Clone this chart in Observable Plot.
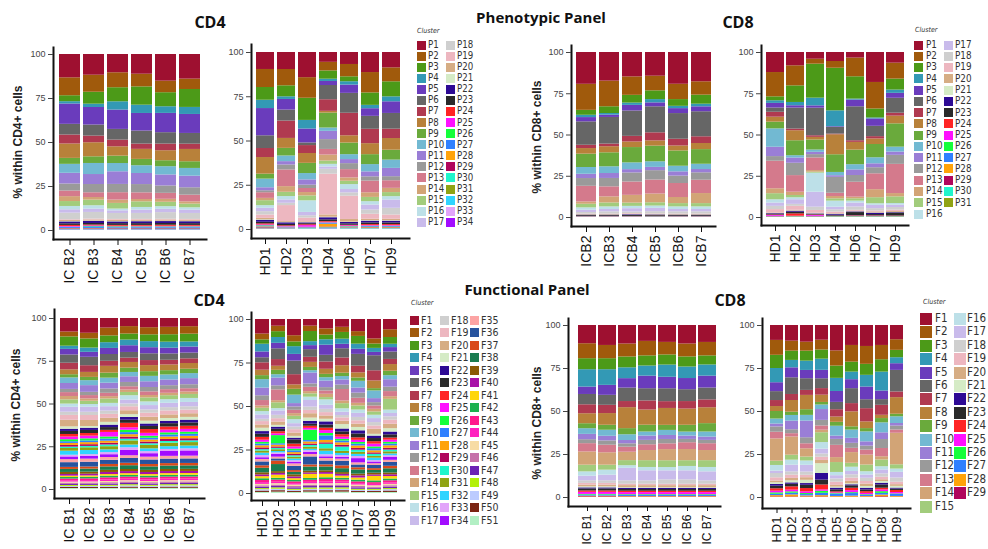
<!DOCTYPE html>
<html><head><meta charset="utf-8">
<script src="https://cdn.jsdelivr.net/npm/d3@7"></script>
<script src="https://cdn.jsdelivr.net/npm/@observablehq/plot@0.6"></script>
<style>
html,body{margin:0;padding:0;background:#fff;}
#fig{position:relative;width:988px;height:549px;overflow:hidden;background:#fff;font-family:"Liberation Sans",Arial,sans-serif;}
.t{position:absolute;white-space:nowrap;color:#111;}
.title{font-family:"Open Sans",sans-serif;font-weight:700;}
.ylab{position:absolute;white-space:nowrap;font-weight:700;font-size:12px;color:#222;transform:translate(-50%,-50%) rotate(-90deg);}
.sw{position:absolute;}
.lt{position:absolute;white-space:nowrap;font-family:"Liberation Sans Narrow","DejaVu Sans Condensed","Liberation Sans",sans-serif;color:#333;line-height:1;}
</style></head>
<body><div id="fig"></div>
<script>
// ---------- cluster labels & colours ----------
const phenoClusters = ["P1","P2","P3","P4","P5","P6","P7","P8","P9","P10","P11","P12","P13","P14","P15","P16","P17","P18","P19","P20","P21","P22","P23","P24","P25","P26","P27","P28","P29","P30","P31","P32","P33","P34"];
const funcClusters = ["F1","F2","F3","F4","F5","F6","F7","F8","F9","F10","F11","F12","F13","F14","F15","F16","F17","F18","F19","F20","F21","F22","F23","F24","F25","F26","F27","F28","F29","F30","F31","F32","F33","F34","F35","F36","F37","F38","F39","F40","F41","F42","F43","F44","F45","F46","F47","F48","F49","F50","F51"];
const palette = ["#9e1030","#a05a0c","#4c9a18","#3399b5","#6a3cbc","#666666","#b03a50","#b8813a","#6aaa3c","#72b9d2","#9a7ed6","#9a9a9a","#d47a8c","#d2a476","#a2cc7c","#bde0e8","#c9bbeb","#cfcfcf","#edb7c0","#d6ad84","#d5ebc6","#2d0a94","#2a2a2a","#ff2424","#ff10ff","#14ff3a","#2f80ff","#ffa30a","#b0055c","#1ff5cc","#8fa314","#2fd4ff","#e2a4fa","#a20cff","#fca4a4","#27539e","#d94a1a","#1a7c50","#8a5a06","#a812a8","#ffd60a","#1cb14e","#ff1a8c","#ff22bf","#f7dca4","#c671aa","#6b22b5","#b2f00a","#bccbff","#7a2412","#b2efc4"];

// ---------- samples ----------
const phenoCD4_IC_samples = ["IC B2","IC B3","IC B4","IC B5","IC B6","IC B7"];
const phenoCD4_HD_samples = ["HD1","HD2","HD3","HD4","HD6","HD7","HD9"];
const phenoCD8_IC_samples = ["ICB2","ICB3","ICB4","ICB5","ICB6","ICB7"];
const phenoCD8_HD_samples = ["HD1","HD2","HD3","HD4","HD6","HD7","HD9"];
const funcCD4_IC_samples = ["IC B1","IC B2","IC B3","IC B4","IC B5","IC B6","IC B7"];
const funcCD4_HD_samples = ["HD1","HD2","HD3","HD4","HD5","HD6","HD7","HD8","HD9"];
const funcCD8_IC_samples = ["IC B1","IC B2","IC B3","IC B4","IC B5","IC B6","IC B7"];
const funcCD8_HD_samples = ["HD1","HD2","HD3","HD4","HD5","HD6","HD7","HD8","HD9"];

// ---------- values (% of cells), rows = clusters, columns = samples ----------
const phenoCD4_IC = [
[13.3,11.8,10.4,11.2,15.2,14.0],[10.2,9.7,8.5,7.2,6.6,5.9],[3.4,6.8,8.0,10.4,8.0,10.2],[1.3,1.9,4.7,4.7,3.8,4.0],
[11.6,10.0,11.0,10.0,11.0,10.8],[6.1,6.3,6.1,7.4,6.5,6.1],[5.1,3.8,3.8,3.0,3.8,3.0],[8.2,8.0,5.3,5.7,5.7,7.0],
[3.4,3.8,4.2,3.6,3.4,3.8],[5.1,6.3,4.7,4.4,4.7,4.4],[6.1,5.7,7.2,6.3,6.3,6.6],[4.0,4.7,4.7,4.7,4.2,4.2],
[3.2,2.7,4.2,3.8,3.4,3.8],[2.8,1.5,1.9,1.3,1.7,1.3],[2.8,3.2,3.2,3.2,2.5,2.1],[1.9,1.9,1.0,1.5,1.5,1.3],
[1.9,1.9,1.5,1.9,1.9,1.9],[3.8,3.8,3.4,3.4,3.8,3.4],[0.4,0.5,0.4,0.4,0.4,0.4],[0.6,0.6,0.8,0.7,0.7,0.7],
[0.2,0.2,0.2,0.2,0.2,0.2],[1.1,1.2,1.0,1.1,1.1,1.1],[0.9,0.9,1.0,1.0,1.0,1.0],[0.6,0.5,0.5,0.5,0.6,0.5],
[0.4,0.3,0.3,0.3,0.3,0.3],[0.2,0.2,0.4,0.3,0.3,0.3],[0.5,0.9,0.4,0.5,0.5,0.5],[0.2,0.2,0.2,0.2,0.2,0.2],
[0.3,0.3,0.3,0.3,0.3,0.3],[0.1,0.1,0.2,0.2,0.2,0.2],[0.1,0.1,0.1,0.1,0.1,0.1],[0.2,0.2,0.2,0.2,0.2,0.2],
[0.1,0.1,0.1,0.1,0.1,0.1],[0.2,0.2,0.2,0.2,0.2,0.2]];

const phenoCD4_HD = [
[9.6,9.6,14.3,5.6,6.8,11.3,8.7],[10.2,9.2,11.7,4.9,7.0,11.5,7.9],[7.2,6.2,12.6,4.7,2.8,7.0,8.5],[4.7,1.5,4.9,1.3,1.9,1.9,2.8],
[15.4,6.0,7.9,2.3,4.7,4.3,6.6],[7.2,6.2,1.5,8.1,11.3,7.3,8.9],[5.1,9.8,4.5,6.6,12.8,8.1,5.3],[9.4,5.6,5.6,1.0,4.1,6.2,6.6],
[2.8,4.3,5.8,8.5,6.6,5.6,5.6],[4.9,3.2,3.6,1.9,2.8,4.1,4.7],[1.7,1.9,3.0,4.7,2.3,2.8,4.7],[1.1,2.8,1.9,5.6,3.4,2.4,2.3],
[3.2,9.4,2.3,3.2,4.7,6.6,4.3],[1.3,3.2,1.9,3.4,1.9,2.6,2.4],[2.8,2.4,2.8,1.9,1.9,2.4,2.3],[1.5,1.9,6.6,1.5,2.8,1.9,1.9],
[1.9,1.9,1.9,1.3,1.9,2.8,4.7],[1.9,1.3,1.3,2.8,1.9,2.4,3.8],[1.9,9.0,2.1,23.2,13.2,2.8,2.4],[0.8,0.5,0.4,1.3,1.5,0.8,0.8],
[0.3,0.2,0.2,0.3,0.2,0.3,0.3],[1.1,0.9,0.5,1.2,0.8,1.0,1.0],[0.9,0.8,0.6,1.0,0.8,0.9,0.9],[0.6,0.4,0.5,0.4,0.3,0.5,0.5],
[0.4,0.3,0.9,0.4,0.5,0.4,0.4],[0.2,0.2,0.2,0.3,0.3,0.3,0.3],[0.5,0.3,0.2,0.4,0.3,0.4,0.4],[0.4,0.2,0.1,1.6,0.2,0.3,0.3],
[0.3,0.2,0.2,0.4,0.2,0.3,0.3],[0.2,0.1,0.2,0.3,0.2,0.2,0.2],[0.2,0.1,0.1,0.2,0.1,0.1,0.1],[0.1,0.1,0.1,0.2,0.1,0.1,0.1],
[0.1,0.1,0.1,0.1,0.1,0.1,0.1],[0.2,0.1,0.1,0.2,0.1,0.1,0.1]];

const phenoCD8_IC = [
[19.3,17.4,14.8,14.4,19.3,17.8],[15.8,15.6,11.2,8.9,9.3,8.1],[3.0,4.1,4.7,5.3,4.1,5.5],[1.4,1.0,1.4,2.0,1.4,1.6],
[2.6,1.4,3.4,2.4,3.0,3.0],[14.2,16.2,15.4,15.8,15.6,15.2],[2.0,1.6,3.4,4.9,4.1,4.1],[3.4,3.7,3.4,3.2,3.0,3.7],
[8.1,8.5,9.3,9.5,9.3,8.9],[4.1,4.1,4.1,3.4,3.4,3.2],[2.6,3.0,2.0,2.0,2.6,2.0],[4.7,5.1,5.5,5.7,4.5,4.5],
[9.5,6.1,8.1,8.5,8.5,8.1],[1.4,3.7,4.7,5.3,3.7,6.1],[2.2,2.4,2.0,2.0,2.0,2.0],[1.4,1.6,1.4,1.4,1.6,1.6],
[1.4,1.4,2.0,2.0,1.4,1.4],[1.0,1.4,1.0,1.4,1.4,1.4],[0.2,0.2,0.3,0.2,0.2,0.2],[0.3,0.3,0.3,0.3,0.3,0.3],
[0.1,0.1,0.1,0.1,0.1,0.1],[0.3,0.3,0.4,0.3,0.3,0.3],[0.5,0.5,0.6,0.5,0.5,0.5],[0.1,0.1,0.1,0.1,0.1,0.1],
[0.1,0.1,0.1,0.1,0.1,0.1],[0.1,0.1,0.1,0.1,0.1,0.1],[0.1,0.1,0.1,0.1,0.1,0.1],[0.05,0.05,0.05,0.05,0.05,0.05],
[0.1,0.1,0.1,0.2,0.1,0.1],[0.05,0.05,0.05,0.05,0.05,0.05],[0.05,0.05,0.05,0.05,0.05,0.05]];

const phenoCD8_HD = [
[12.2,8.1,4.1,5.5,3.4,18.3,6.5],[14.8,12.2,3.0,4.1,11.4,16.2,9.7],[2.4,10.1,20.7,26.0,13.6,5.5,6.7],[1.6,2.0,4.7,9.7,0.6,0.6,2.0],
[2.8,1.4,1.4,0.4,4.1,4.5,3.0],[2.6,12.8,16.8,4.1,20.7,6.3,9.1],[3.0,1.0,1.0,0.4,1.0,1.4,1.8],[3.0,6.1,1.6,12.2,4.7,3.4,4.7],
[4.1,9.1,6.1,10.8,8.9,8.1,14.2],[11.2,1.4,1.4,2.0,3.2,3.7,3.0],[5.7,3.2,1.4,1.0,3.4,2.4,2.0],[2.8,7.5,2.0,9.7,4.1,3.7,5.5],
[16.8,10.1,7.7,2.0,9.1,9.7,17.8],[3.0,2.0,1.0,1.4,1.0,4.9,2.0],[3.7,1.4,0.6,1.4,1.4,3.7,4.1],[2.0,1.2,11.6,3.7,1.2,1.0,1.0],
[2.0,2.8,9.1,1.6,2.4,2.0,1.4],[2.0,1.2,2.0,1.4,2.0,1.4,1.6],[2.0,2.4,1.6,1.0,0.6,0.6,0.8],[0.3,0.4,0.3,0.3,0.3,0.6,0.6],
[0.1,0.2,0.2,0.1,0.1,0.2,0.1],[0.3,0.6,0.3,0.5,0.4,0.8,0.3],[0.6,1.0,0.4,0.6,2.0,0.8,1.8],[0.3,1.4,0.3,0.1,0.2,0.2,0.2],
[0.5,0.2,0.5,0.1,0.2,0.2,0.1],[0.1,0.1,0.1,0.1,0.1,0.1,0.1],[0.1,0.1,0.1,0.1,0.1,0.1,0.1],[0.1,0.1,0.1,0.1,0.1,0.1,0.1],
[0.2,0.1,0.2,0.1,0.1,0.1,0.1],[0.1,0.1,0.1,0.1,0.1,0.1,0.1],[0.1,0.1,0.1,0.1,0.1,0.1,0.1]];

const funcCD4_IC = [
[8.0,8.6,5.5,4.7,5.3,5.1,4.7],[2.9,3.3,4.5,4.3,4.1,4.3,4.3],[5.5,5.3,3.9,3.5,3.9,4.3,4.5],[1.9,2.5,3.3,3.3,3.5,3.5,2.9],
[3.3,2.9,3.5,3.9,3.5,3.3,3.5],[4.9,4.9,3.9,3.3,3.9,3.7,3.3],[3.9,3.9,2.9,2.5,2.9,2.7,2.7],[2.9,2.9,3.9,3.3,3.5,3.3,3.3],
[1.9,1.9,2.9,2.5,2.7,2.5,2.5],[3.3,2.9,2.9,2.5,3.1,2.9,2.9],[3.5,3.9,3.3,3.3,3.3,3.3,3.5],[1.9,1.9,2.5,2.5,2.5,2.3,2.3],
[2.3,1.9,1.9,1.9,2.1,2.1,1.9],[2.0,1.4,1.4,1.4,1.4,1.4,1.4],[2.5,1.9,2.5,1.9,2.3,2.3,2.3],[1.9,1.6,1.9,2.5,2.1,2.1,2.3],
[2.9,2.9,2.5,2.3,2.5,2.5,2.5],[1.9,1.9,1.9,1.6,1.9,1.9,1.9],[2.9,2.9,2.3,2.3,2.3,2.3,2.1],[3.9,3.5,2.3,2.3,2.3,2.1,2.1],
[1.4,1.0,1.6,1.6,1.6,1.6,1.6],[1.3,1.3,1.4,1.6,1.4,1.4,1.6],[1.8,1.8,1.6,1.8,1.8,1.9,1.9],[1.5,1.5,1.2,2.6,2.2,1.8,1.8],
[1.6,1.6,2.6,1.4,1.6,1.6,1.6],[1.2,1.2,1.2,1.4,1.2,1.2,1.2],[1.0,1.0,1.2,1.2,1.0,1.2,1.2],[1.2,1.2,1.2,1.4,1.2,1.4,1.4],
[1.0,1.0,1.0,1.2,1.0,1.2,1.2],[0.8,0.8,1.0,1.0,0.9,1.0,1.0],[1.6,1.6,1.8,2.4,2.0,2.0,2.0],[2.4,2.4,1.6,1.6,1.6,1.6,1.6],
[1.0,1.0,1.2,1.4,1.2,1.2,1.2],[1.6,1.6,1.6,3.2,2.0,2.8,3.0],[1.8,1.8,1.6,1.6,1.6,1.6,1.6],[2.8,2.8,2.4,2.8,2.6,2.6,2.6],
[1.2,1.2,1.4,1.4,1.4,1.4,1.4],[1.8,1.8,2.0,2.2,2.0,2.0,2.0],[1.2,1.2,1.2,1.2,1.2,1.2,1.2],[1.0,1.0,1.2,1.2,1.2,1.2,1.2],
[0.8,0.8,0.9,1.0,0.9,1.0,1.0],[0.9,0.9,1.0,1.0,1.0,1.0,1.0],[1.0,1.0,1.2,1.2,1.2,1.2,1.2],[0.8,0.8,0.9,0.9,0.9,0.9,0.9],
[0.6,0.6,0.7,0.7,0.7,0.7,0.7],[0.8,0.8,0.8,0.9,0.8,0.9,0.9],[0.6,0.6,0.7,0.7,0.7,0.7,0.7],[0.6,0.6,0.6,0.7,0.6,0.7,0.7],
[0.6,0.6,0.6,0.7,0.6,0.7,0.7],[0.6,0.6,0.6,0.7,0.6,0.7,0.7],[0.6,0.6,0.6,0.7,0.6,0.7,0.7]];

const funcCD4_HD = [
[8.3,3.8,9.2,3.8,5.4,4.4,6.9,11.1,5.8],[3.3,3.1,3.5,3.1,3.5,2.9,2.7,2.9,4.4],[2.5,3.3,2.7,5.8,2.7,3.8,4.4,2.5,3.8],
[4.4,3.3,4.4,2.3,3.1,2.9,2.9,2.3,1.9],[3.3,3.1,3.8,2.3,5.8,2.5,2.9,1.9,2.5],[2.9,6.1,7.7,4.4,3.8,5.2,6.7,8.6,4.2],
[4.2,3.8,5.8,2.9,4.2,4.4,3.8,5.8,2.9],[3.1,2.3,2.5,2.9,2.9,4.2,2.9,4.4,3.8],[2.3,2.5,3.3,1.9,1.9,1.9,1.9,1.3,2.5],
[4.8,1.9,4.8,1.3,1.9,1.9,3.8,4.4,2.3],[4.4,4.4,1.9,6.3,3.8,2.9,2.9,2.3,4.2],[2.7,2.3,1.9,1.9,1.9,2.5,2.9,1.9,2.5],
[3.1,6.1,1.9,2.5,1.9,6.5,2.9,1.9,2.9],[1.3,1.2,1.5,1.3,1.9,1.5,1.5,1.5,1.5],[1.9,3.3,1.9,1.9,1.3,2.9,2.3,1.9,6.1],
[1.9,1.3,2.3,1.9,3.1,1.9,1.9,1.9,1.9],[2.5,2.5,1.9,3.8,2.3,1.9,2.3,2.3,1.9],[1.3,1.9,1.5,1.9,1.9,1.3,1.9,1.9,1.9],
[1.9,1.9,1.9,1.9,1.9,1.9,1.9,1.9,2.3],[1.9,1.9,1.9,2.5,1.9,1.9,1.9,2.9,2.5],[1.9,1.0,1.0,1.9,1.5,2.5,1.9,1.0,1.9],
[1.5,1.2,1.0,1.6,1.8,1.6,1.8,1.4,1.6],[1.8,1.4,2.4,1.2,1.8,1.6,2.2,1.8,1.8],[1.6,1.2,1.6,1.2,1.4,1.4,1.4,1.4,1.2],
[1.2,1.0,1.2,1.0,1.6,1.2,1.2,1.6,1.2],[1.0,4.6,1.0,6.0,1.4,1.0,1.0,1.0,1.0],[1.0,0.8,1.0,0.8,2.6,1.0,1.0,1.2,1.0],
[1.2,1.0,1.0,1.2,1.4,1.4,1.4,1.2,1.4],[1.0,0.8,0.8,0.8,0.8,1.0,1.0,0.8,1.0],[0.8,0.8,0.8,1.0,2.6,2.4,1.2,1.2,1.0],
[1.2,1.0,1.0,1.2,1.4,1.2,1.2,1.0,1.2],[1.4,0.8,1.0,0.8,2.0,1.2,1.2,1.4,1.0],[1.2,0.8,1.0,1.0,1.2,1.0,1.2,0.8,1.0],
[1.0,1.6,0.8,1.2,1.0,1.0,2.4,1.0,1.6],[1.4,1.0,1.4,1.4,1.4,1.2,1.2,1.0,1.2],[2.2,1.2,2.4,4.6,2.2,2.6,1.6,1.8,2.2],
[1.4,2.0,1.0,1.2,1.2,1.6,1.2,1.0,1.4],[2.6,4.0,1.4,2.4,2.2,2.2,2.4,1.6,2.4],[1.2,1.0,1.2,1.0,1.0,1.0,1.0,1.0,1.0],
[1.0,1.0,1.0,0.8,1.0,1.0,1.2,0.8,1.0],[1.2,1.8,1.0,2.4,2.0,1.2,1.2,2.6,1.4],[1.0,1.0,0.8,1.0,1.0,1.0,1.0,1.0,1.0],
[1.2,1.2,1.0,1.2,1.4,1.2,1.0,1.0,1.2],[1.0,0.8,0.8,0.8,1.0,0.8,0.8,0.8,0.8],[0.8,0.8,0.8,0.8,0.8,0.8,0.8,0.8,0.8],
[0.8,0.8,0.8,0.8,0.8,0.8,0.8,0.6,0.8],[0.8,0.8,0.8,0.8,0.8,0.8,0.8,0.6,0.8],[0.6,0.8,0.6,0.8,0.8,0.8,0.6,0.6,0.6],
[0.8,0.8,0.6,0.8,0.8,0.8,0.6,0.6,0.8],[0.8,0.8,0.6,0.8,0.8,0.8,0.6,0.6,0.8],[0.6,0.8,0.6,0.8,0.8,0.8,0.6,0.6,0.6]];

const funcCD8_IC = [
[10.6,11.6,10.6,9.1,9.7,10.6,9.7],[8.7,7.7,7.4,8.3,7.2,7.4,7.7],[6.4,6.4,6.2,5.8,5.8,5.8,5.2],[10.1,9.1,6.2,5.8,7.0,6.6,6.4],
[4.3,5.8,5.4,7.2,6.6,6.4,6.8],[6.0,5.8,7.7,7.0,7.4,6.8,6.8],[5.2,4.8,3.5,5.2,3.9,4.3,4.5],[5.8,6.8,12.0,8.7,9.7,9.3,9.1],
[2.9,2.9,3.5,3.9,2.9,3.9,4.8],[3.3,3.5,3.3,2.3,2.9,2.3,2.9],[3.1,2.7,1.9,2.5,2.3,1.9,1.9],[2.3,2.5,1.9,2.5,2.5,1.9,1.9],
[4.8,4.4,2.9,3.3,3.3,3.9,3.9],[7.7,7.2,4.8,5.8,6.4,6.4,5.8],[3.9,2.9,2.9,3.9,3.9,3.3,3.9],[2.5,2.9,1.5,1.9,1.9,2.5,2.5],
[2.7,3.3,7.2,5.8,5.2,5.2,5.2],[1.5,1.5,1.9,1.9,2.5,2.5,1.9],[1.0,1.0,0.8,0.8,0.8,0.8,0.8],[1.0,1.0,1.2,1.2,1.2,1.2,1.2],
[0.6,0.6,0.4,0.4,0.4,0.4,0.4],[0.6,0.6,0.6,0.6,0.6,0.6,0.6],[1.2,1.2,1.0,1.0,1.0,1.0,1.0],[0.8,0.8,0.8,0.8,0.8,0.8,0.8],
[1.2,1.2,1.2,1.2,1.2,1.2,1.2],[0.4,0.4,0.4,0.4,0.4,0.4,0.4],[0.6,0.6,0.6,0.6,0.6,0.6,0.6],[0.4,0.4,0.3,0.3,0.3,0.3,0.3],
[0.4,0.4,0.3,0.3,0.3,0.3,0.3]];

const funcCD8_HD = [
[8.7,9.1,9.7,8.7,14.9,11.6,12.2,11.6,8.3],[8.7,5.8,5.2,5.8,8.9,9.7,10.4,8.3,6.2],[7.7,5.4,5.8,5.4,7.2,5.8,6.4,7.2,4.3],
[8.3,4.3,5.4,6.6,7.7,4.4,6.8,11.0,3.5],[5.2,5.8,4.8,5.0,6.4,5.2,7.4,5.0,3.9],[5.2,9.7,6.8,5.8,4.3,8.7,5.2,3.3,12.6],
[3.5,3.5,2.9,3.9,4.3,4.8,7.7,5.8,3.3],[2.9,6.8,8.3,4.3,3.1,8.7,3.9,1.9,9.7],[4.4,1.9,3.3,1.5,2.3,1.9,1.9,2.5,1.5],
[2.9,3.3,3.3,2.7,5.8,4.8,5.8,5.8,3.9],[1.7,5.0,9.7,6.4,1.9,2.9,2.5,3.9,1.5],[3.1,2.3,3.5,3.3,3.5,2.9,2.3,5.2,2.3],
[3.9,1.9,2.9,2.5,7.2,2.5,2.9,4.8,1.9],[13.0,10.6,4.8,1.5,2.9,6.2,5.8,1.9,18.4],[2.5,2.9,2.3,5.8,5.8,2.3,3.9,3.9,2.5],
[3.3,2.9,2.5,3.9,1.9,2.5,1.9,1.9,1.9],[1.4,3.9,3.9,2.9,1.9,1.9,1.9,2.3,3.3],[2.5,1.9,1.9,1.9,1.9,1.9,1.9,1.9,2.5],
[1.9,1.9,1.4,1.9,1.9,1.9,1.5,1.5,1.4],[1.0,1.4,1.5,1.9,1.0,1.4,1.4,1.0,1.0],[1.0,1.2,1.9,5.8,0.6,0.6,1.0,1.0,1.0],
[1.0,0.8,1.0,3.9,1.0,0.6,1.0,1.0,0.6],[1.5,1.5,1.9,2.9,1.2,1.4,1.0,1.9,0.8],[1.4,1.9,1.9,2.9,0.6,1.4,1.0,1.0,1.2],
[1.0,1.0,1.0,0.8,0.4,1.2,0.8,1.0,0.8],[0.8,0.8,0.6,1.2,0.3,0.5,0.4,1.0,0.3],[0.8,1.0,0.8,1.4,1.4,1.5,0.6,1.0,1.2],
[0.8,1.2,0.6,0.8,0.4,0.6,0.4,1.0,0.4],[0.3,0.3,0.3,0.3,0.2,0.2,0.2,0.4,0.2]];

// ---------- drawing ----------
const fig = document.getElementById("fig");
const W = 988, H = 549;

function panel(samples, matrix, clusters, g) {
  const rows = [];
  for (let i = clusters.length - 1; i >= 0; i--)
    for (let j = 0; j < samples.length; j++)
      rows.push({sample: samples[j], cluster: clusters[i], value: matrix[i][j]});
  const svg = Plot.plot({
    width: W, height: H,
    marginLeft: g.ax, marginRight: W - g.right, marginTop: g.top, marginBottom: H - g.ay,
    style: {position: "absolute", left: "0px", top: "0px", background: "transparent", overflow: "visible",
            fontFamily: "'Liberation Sans', Arial, sans-serif", color: "#111"},
    x: {domain: samples, range: [g.bx0, g.bx1], paddingInner: 0.12, paddingOuter: 0},
    y: {domain: [0, 1], range: [g.y0, g.y100]},
    color: {domain: clusters, range: palette.slice(0, clusters.length)},
    marks: [
      Plot.barY(rows, Plot.stackY({x: "sample", y: "value", z: "cluster", fill: "cluster", offset: "normalize"})),
      Plot.frame({anchor: "left", strokeWidth: 2}),
      Plot.frame({anchor: "bottom", strokeWidth: 2}),
      Plot.axisY({ticks: [0, 0.25, 0.5, 0.75, 1], tickFormat: d => String(Math.round(d * 100)),
                  fontSize: 9, tickSize: 5, tickPadding: 3, color: "#444", label: null}),
      Plot.axisX({tickRotate: -90, fontSize: g.fx || 14, tickSize: g.tx || 6, tickPadding: 3, color: "#111", label: null})
    ]
  });
  fig.appendChild(svg);
}

panel(phenoCD4_IC_samples, phenoCD4_IC, phenoClusters, {ax: 53, right: 206, top: 47, ay: 239, bx0: 57, bx1: 203, y0: 230, y100: 54});
panel(phenoCD4_HD_samples, phenoCD4_HD, phenoClusters, {ax: 251, right: 409, top: 44, ay: 238, bx0: 253, bx1: 404, y0: 229, y100: 52});
panel(phenoCD8_IC_samples, phenoCD8_IC, phenoClusters.slice(0, 31), {ax: 571, right: 715, top: 45, ay: 226, bx0: 575, bx1: 712, y0: 217, y100: 52});
panel(phenoCD8_HD_samples, phenoCD8_HD, phenoClusters.slice(0, 31), {ax: 761, right: 908, top: 45, ay: 225, bx0: 764, bx1: 905, y0: 217, y100: 52});
panel(funcCD4_IC_samples, funcCD4_IC, funcClusters, {ax: 54, right: 204, top: 309, ay: 498, bx0: 58, bx1: 200, y0: 489, y100: 318});
panel(funcCD4_HD_samples, funcCD4_HD, funcClusters, {ax: 251, right: 404, top: 312, ay: 500, bx0: 253, bx1: 399, y0: 493, y100: 319});
panel(funcCD8_IC_samples, funcCD8_IC, funcClusters.slice(0, 29), {ax: 568, right: 720, top: 318, ay: 506, bx0: 576, bx1: 717, y0: 497, y100: 325, fx: 12, tx: 5});
panel(funcCD8_HD_samples, funcCD8_HD, funcClusters.slice(0, 29), {ax: 762, right: 910, top: 318, ay: 508, bx0: 766, bx1: 908, y0: 497, y100: 325, fx: 13, tx: 5});

// ---------- titles ----------
function text(str, x, y, size, cls) {
  const d = document.createElement("div");
  d.className = "t " + (cls || "");
  d.textContent = str;
  d.style.left = x + "px"; d.style.top = y + "px"; d.style.fontSize = size + "px";
  d.style.transform = "translate(-50%,-50%)";
  fig.appendChild(d);
}
text("Phenotypic Panel", 541, 17, 15, "title");
text("Functional Panel", 527, 289, 15, "title");
text("CD4", 210, 22, 16, "title");
text("CD8", 738, 22, 16, "title");
text("CD4", 209, 300, 16, "title");
text("CD8", 730, 300, 16, "title");

function ylab(str, x, y) {
  const d = document.createElement("div");
  d.className = "ylab"; d.textContent = str;
  d.style.left = x + "px"; d.style.top = y + "px";
  fig.appendChild(d);
}
ylab("% within CD4+ cells", 18, 142);
ylab("% within CD4+ cells", 16, 405);
ylab("% within CD8+ cells", 537, 137);
ylab("% within CD8+ cells", 537, 423);

// ---------- legends ----------
function legend(names, o) {
  const c = document.createElement("div");
  c.className = "lt"; c.textContent = "Cluster";
  c.style.left = o.cx + "px"; c.style.top = (o.cy - 4) + "px"; c.style.fontSize = "7px"; c.style.fontStyle = "italic";
  fig.appendChild(c);
  names.forEach((n, i) => {
    const col = Math.floor(i / o.per), row = i % o.per;
    const yc = o.y0 + row * o.dy;
    const s = document.createElement("div");
    s.className = "sw";
    s.style.left = o.sx[col] + "px"; s.style.top = (yc - o.sw / 2) + "px";
    s.style.width = o.sw + "px"; s.style.height = o.sw + "px";
    s.style.background = palette[i];
    fig.appendChild(s);
    const t = document.createElement("div");
    t.className = "lt"; t.textContent = n;
    t.style.left = o.tx[col] + "px"; t.style.top = (yc - o.fs * 0.52) + "px"; t.style.fontSize = o.fs + "px";
    fig.appendChild(t);
  });
}
legend(phenoClusters, {cx: 417, cy: 32, sx: [417, 446], tx: [428, 457], per: 17, y0: 45, dy: 11.08, sw: 9, fs: 9.6});
legend(phenoClusters.slice(0, 31), {cx: 915, cy: 31, sx: [914, 944], tx: [926, 955], per: 16, y0: 45, dy: 11.27, sw: 9, fs: 9.8});
legend(funcClusters, {cx: 411, cy: 304, sx: [410, 440, 470], tx: [421, 451, 481], per: 17, y0: 320, dy: 12.5, sw: 9, fs: 10.5});
legend(funcClusters.slice(0, 29), {cx: 923, cy: 303, sx: [920, 954], tx: [935, 967], per: 15, y0: 319, dy: 13.4, sw: 12, fs: 11.5});
</script>
</body></html>
